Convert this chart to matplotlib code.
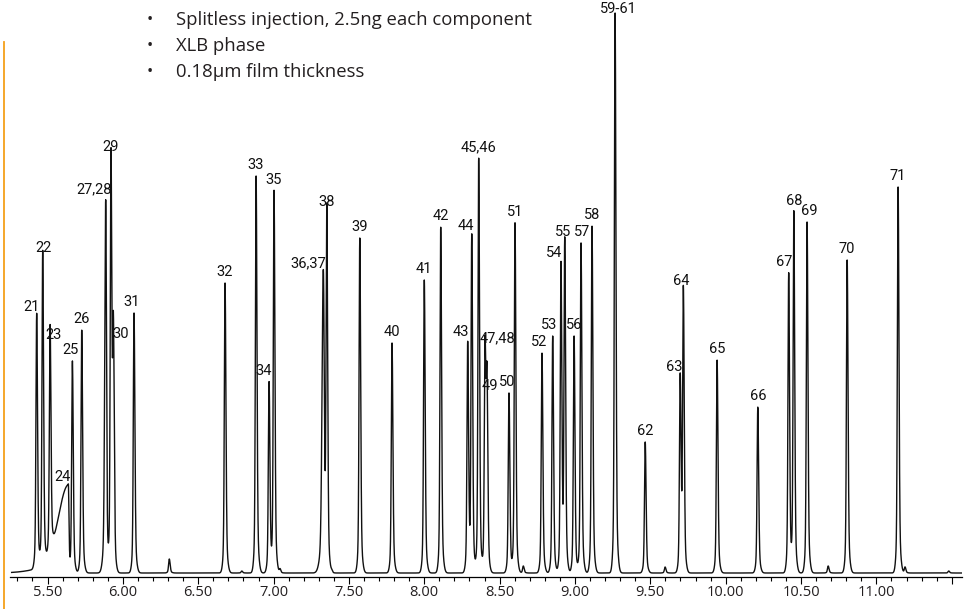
import numpy as np
import matplotlib
matplotlib.use('Agg')
from matplotlib import pyplot as plt
from matplotlib.lines import Line2D

# peak table (retention time [min], height [arb. units])
peak_labels = ['21', '22', '23', '24', '25', '26', '27,28', '29', '30', '31',
               '32', '33', '34', '35', '36,37', '38', '39', '40', '41', '42',
               '43', '44', '45,46', '47,48', '49', '50', '51', '52', '53', '54',
               '55', '56', '57', '58', '59-61', '62', '63', '64', '65', '66',
               '67', '68', '69', '70', '71']
peak_rt = [5.428, 5.468, 5.517, 5.638, 5.665, 5.727, 5.886, 5.921, 5.937, 6.074,
           6.678, 6.884, 6.970, 7.003, 7.330, 7.353, 7.572, 7.786, 8.000, 8.109,
           8.288, 8.315, 8.361, 8.403, 8.416, 8.562, 8.602, 8.781, 8.852, 8.907,
           8.932, 8.994, 9.040, 9.113, 9.266, 9.466, 9.698, 9.719, 9.943, 10.213,
           10.418, 10.452, 10.540, 10.806, 11.144]
peak_height = [255, 314, 227, 88, 212, 243, 373, 415, 232, 260,
               290, 397, 191, 382, 299, 360, 335, 230, 293, 346,
               230, 336, 415, 224, 180, 180, 350, 220, 237, 309,
               330, 237, 330, 347, 560, 131, 195, 281, 213, 166,
               300, 361, 351, 313, 386]

# small unlabelled peaks
minor_rt = [6.308, 6.789, 7.043, 7.386, 8.657, 9.598, 10.680, 11.190, 11.48]
minor_height = [14, 2, 4, 2, 7, 6, 7, 6, 2]

# peaks that are broader than usual (front, tail sigma in min)
wide_peaks = {'24': (0.065, 0.004), '36,37': (0.008, 0.006), '27,28': (0.006, 0.005)}

# label nudges in pixels (dx, dy)
label_shift = {'21': (-5, 0), '22': (1, 0), '23': (3, 0), '24': (-6, -3), '25': (-2, 0),
               '27,28': (-12, 0), '30': (7, -4), '31': (-2, 0), '34': (-5, 0),
               '36,37': (-15, 0), '43': (-7, 0), '44': (-6, 0), '47,48': (12, 0),
               '49': (3, -4), '50': (-2, 0), '52': (-3, 0), '53': (-4, 0),
               '54': (-7, 0), '55': (-2, 0), '57': (1, 0), '59-61': (3, -7),
               '63': (-6, 0), '64': (-2, 0), '67': (-5, 0), '69': (2, 0)}


def peak(t, t0, h, left=0.0045, right=0.0055):
    s = np.where(t < t0, left, right)
    core = np.exp(-0.5 * ((t - t0) / s) ** 2)
    foot = np.exp(-0.5 * ((t - t0) / (2.4 * s)) ** 2)
    return h * (0.88 * core + 0.12 * foot)


t = np.arange(5.262, 11.565, 0.0004)
signal = np.zeros_like(t)
for lbl, rt, h in zip(peak_labels, peak_rt, peak_height):
    signal += peak(t, rt, h, *wide_peaks.get(lbl, (0.0045, 0.0055)))
for rt, h in zip(minor_rt, minor_height):
    signal += peak(t, rt, h)

fig = plt.figure(figsize=(9.69, 6.09), dpi=100)
ax = fig.add_axes([10 / 969, 32 / 609, 952 / 969, 567 / 609])
ax.plot(t, signal, color='#111111', lw=1.0)
ax.set_xlim(5.251, 11.568)
ax.set_ylim(-4, 563)

for lbl, rt, h in zip(peak_labels, peak_rt, peak_height):
    dx, dy = label_shift.get(lbl, (0, 0))
    ax.annotate(lbl, (rt, h), xytext=(dx * 0.72, 3 + dy * 0.72), textcoords='offset points',
                ha='center', va='bottom', fontsize=10.5, color='#111111',
                family=['Liberation Sans Narrow', 'Roboto'], annotation_clip=False)

for s in ['left', 'right', 'top']:
    ax.spines[s].set_visible(False)
ax.spines['bottom'].set_linewidth(0.9)
ax.set_yticks([])
ax.set_xticks(np.arange(5.5, 11.51, 0.5))
ax.set_xticks(np.arange(5.3, 11.56, 0.1), minor=True)
ax.set_xticklabels([f'{v:.2f}' if v < 11.4 else '' for v in np.arange(5.5, 11.51, 0.5)])
ax.tick_params(axis='x', which='major', direction='out', length=5, width=0.8, pad=1,
               labelsize=10.5, labelcolor='#231f20')
ax.tick_params(axis='x', which='minor', direction='out', length=3, width=0.8)
for lab in ax.get_xticklabels():
    lab.set_family(['Open Sans', 'DejaVu Sans'])

# orange marker line at the left edge
fig.add_artist(Line2D([4 / 969, 4 / 969], [0, 1 - 42 / 609], color='#f5a01a', lw=1.3))

notes = ['Splitless injection, 2.5ng each component', 'XLB phase', '0.18\u00b5m film thickness']
for i, note in enumerate(notes):
    y = 1 - (20 + 26 * i) / 609
    fig.text(150 / 969, y, '\u2022', ha='center', va='center', fontsize=12, color='#231f20',
             family=['Open Sans', 'DejaVu Sans'])
    fig.text(176 / 969, y, note, ha='left', va='center', fontsize=13.3, color='#231f20',
             family=['Open Sans', 'DejaVu Sans'])

fig.savefig('out.png', dpi=100)
